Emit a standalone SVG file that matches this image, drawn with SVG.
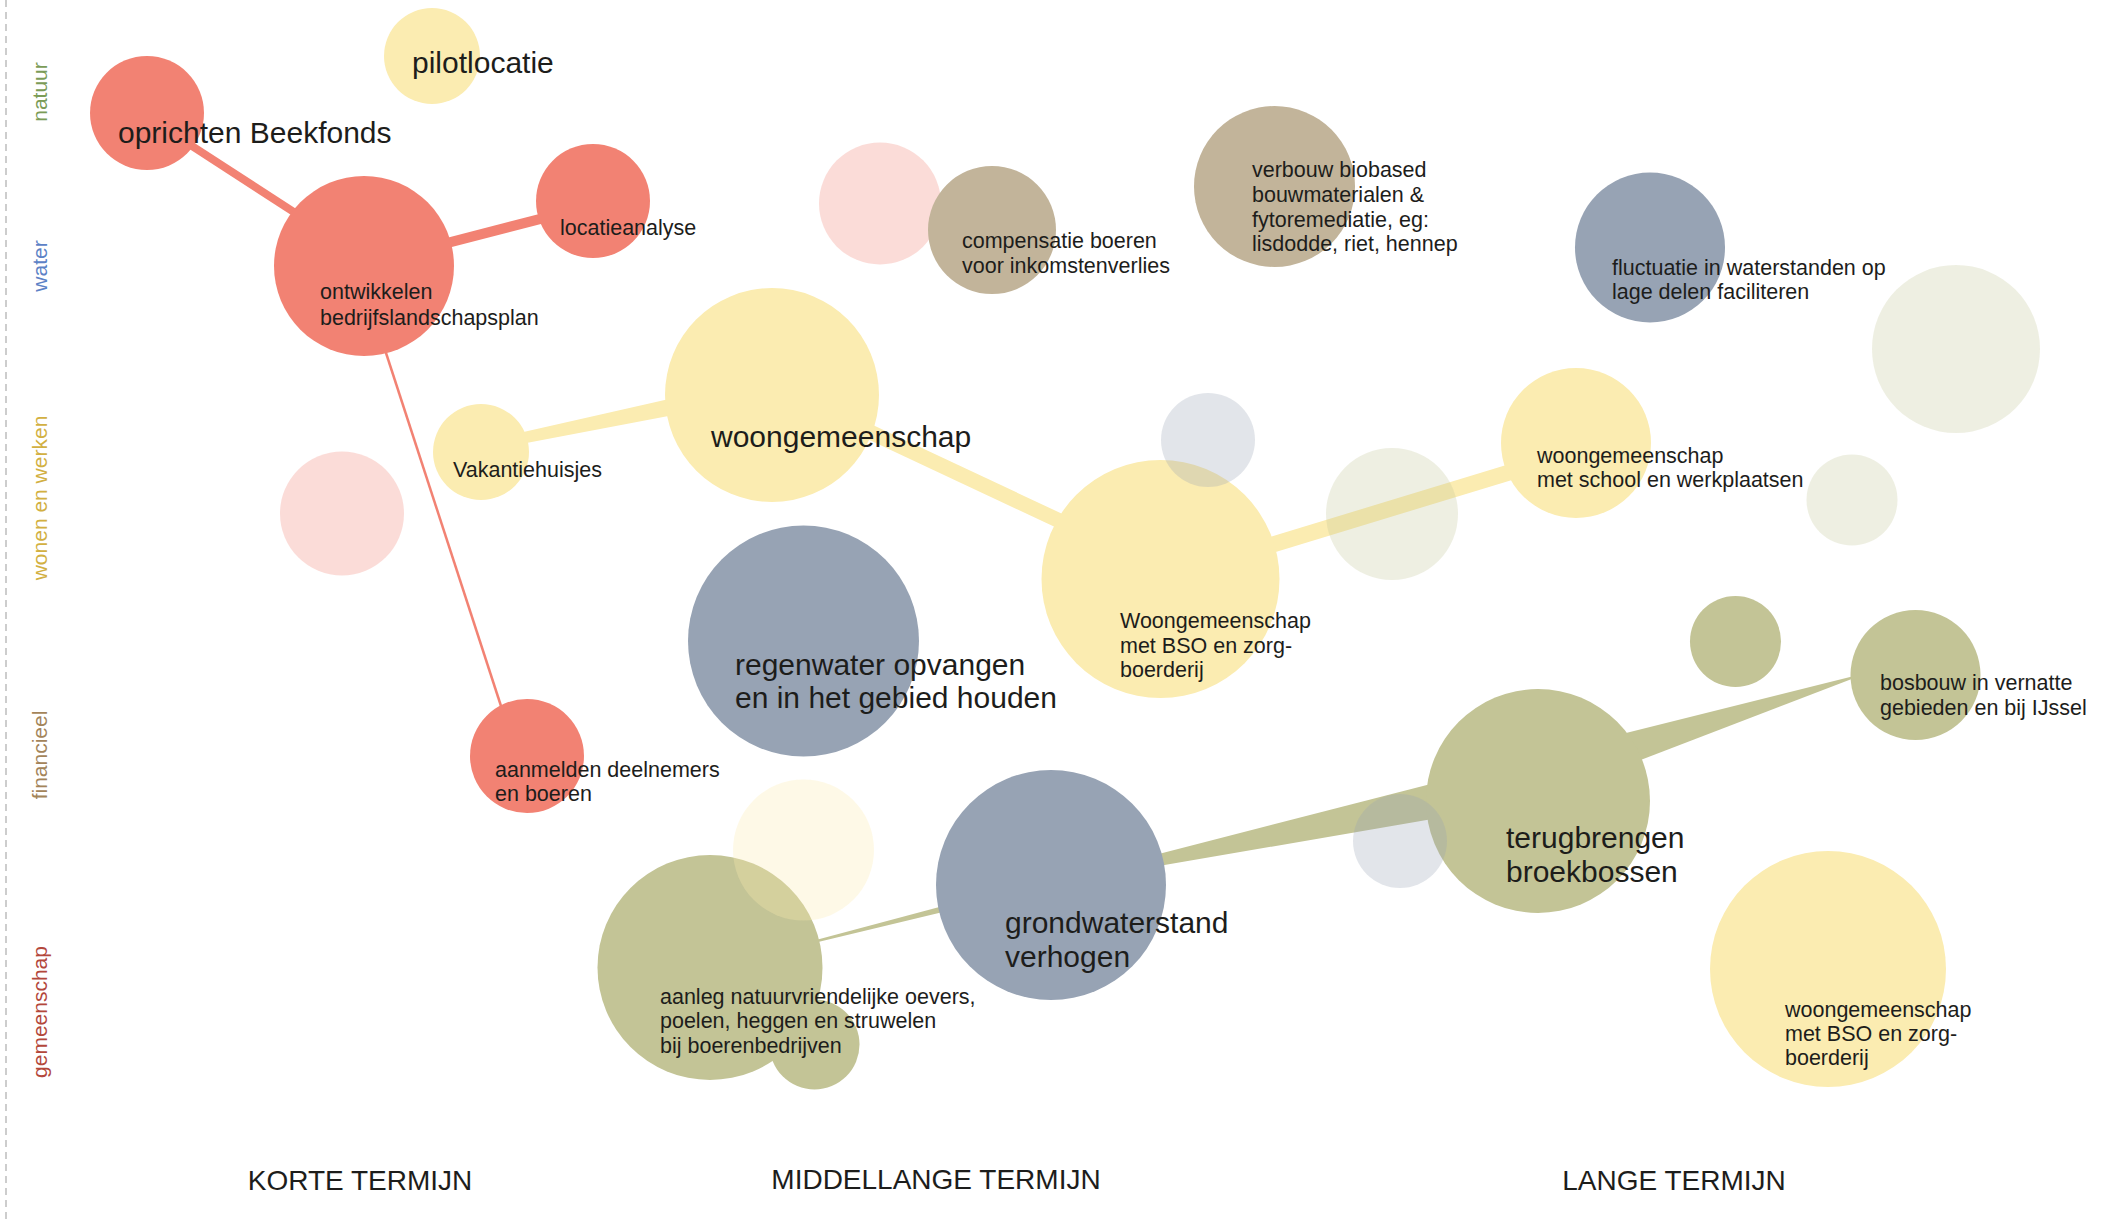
<svg xmlns="http://www.w3.org/2000/svg" width="2107" height="1224" viewBox="0 0 2107 1224">
<style>
.t{font-family:"Liberation Sans",Arial,sans-serif;fill:#1d1d1b}
.s{font-size:21.5px}
.l{font-size:30px}
.ax{font-family:"Liberation Sans",Arial,sans-serif;font-size:21px;text-anchor:middle}
.term{font-family:"Liberation Sans",Arial,sans-serif;font-size:28px;fill:#1d1d1b;text-anchor:middle}
.red{fill:#f28273}.yel{fill:#fbecb1}.tan{fill:#c2b49a}.blu{fill:#97a3b4}.oli{fill:#c3c496}
.fade{opacity:0.28}
.fadey{opacity:0.3}
.cr{stroke:#f28273;fill:none}.cy{stroke:#fbecb1;fill:none}
</style>
<rect width="2107" height="1224" fill="#ffffff"/>
<line x1="6" y1="0" x2="6" y2="1224" stroke="#bdbdbd" stroke-width="1.5" stroke-dasharray="7 5"/>
<g id="axis-labels">
<text class="ax" fill="#7b9c57" transform="translate(47,92) rotate(-90)">natuur</text>
<text class="ax" fill="#5c82c6" transform="translate(47,266) rotate(-90)">water</text>
<text class="ax" fill="#d2b042" transform="translate(47,498) rotate(-90)">wonen en werken</text>
<text class="ax" fill="#a3845a" transform="translate(47,755) rotate(-90)">financieel</text>
<text class="ax" fill="#b3473b" transform="translate(47,1012) rotate(-90)">gemeenschap</text>
</g>
<g id="term-labels">
<text class="term" x="360" y="1190">KORTE TERMIJN</text>
<text class="term" x="936" y="1189">MIDDELLANGE TERMIJN</text>
<text class="term" x="1674" y="1190">LANGE TERMIJN</text>
</g>
<g id="connectors">
<line class="cr" x1="175" y1="135" x2="320" y2="229" stroke-width="8"/>
<line class="cr" x1="440" y1="244.8" x2="560" y2="213.8" stroke-width="10"/>
<line class="cr" x1="384.4" y1="348" x2="502.3" y2="710" stroke-width="2.5"/>
<polygon class="yel" points="500,437.2 700,392.1 700,410 500,448.1"/>
<line class="cy" x1="772" y1="386" x2="1160" y2="568" stroke-width="15"/>
<line class="cy" x1="1160" y1="579" x2="1576" y2="452" stroke-width="16"/>
<polygon class="oli" points="815,940.2 945,905.4 945,911.4 815,942.7"/>
<polygon class="oli" points="1150,856.3 1460,776.4 1460,814.3 1150,867.6"/>
<polygon class="oli" points="1870,672 1600,739.4 1600,775.6"/>
</g>
<g id="node-beekfonds"><circle class="red" cx="147" cy="113" r="57"/><text class="t l" x="118" y="143">oprichten Beekfonds</text></g>
<g id="node-pilotlocatie"><circle class="yel" cx="432" cy="56" r="48"/><text class="t l" x="412" y="73">pilotlocatie</text></g>
<g id="node-ontwikkelen"><circle class="red" cx="364" cy="266" r="90"/><text class="t s" x="320" y="299">ontwikkelen</text><text class="t s" x="320" y="325">bedrijfslandschapsplan</text></g>
<g id="node-locatieanalyse"><circle class="red" cx="593" cy="201" r="57"/><text class="t s" x="560" y="235">locatieanalyse</text></g>
<g id="node-faded-pink-top"><circle class="red fade" cx="880" cy="203.5" r="61"/></g>
<g id="node-compensatie"><circle class="tan" cx="992" cy="230" r="64"/><text class="t s" x="962" y="248">compensatie boeren</text><text class="t s" x="962" y="273">voor inkomstenverlies</text></g>
<g id="node-verbouw"><circle class="tan" cx="1274.5" cy="186.5" r="80.5"/><text class="t s" x="1252" y="177">verbouw biobased</text><text class="t s" x="1252" y="202">bouwmaterialen &amp;</text><text class="t s" x="1252" y="227">fytoremediatie, eg:</text><text class="t s" x="1252" y="251">lisdodde, riet, hennep</text></g>
<g id="node-fluctuatie"><circle class="blu" cx="1650" cy="247.5" r="75"/><text class="t s" x="1612" y="275">fluctuatie in waterstanden op</text><text class="t s" x="1612" y="299">lage delen faciliteren</text></g>
<g id="node-woongemeenschap"><circle class="yel" cx="772" cy="395" r="107"/><text class="t l" x="711" y="447">woongemeenschap</text></g>
<g id="node-vakantiehuisjes"><circle class="yel" cx="481" cy="452" r="48"/><text class="t s" x="453" y="477">Vakantiehuisjes</text></g>
<g id="node-bso"><circle class="yel" cx="1160.5" cy="579" r="119"/><text class="t s" x="1120" y="628">Woongemeenschap</text><text class="t s" x="1120" y="653">met BSO en zorg-</text><text class="t s" x="1120" y="677">boerderij</text></g>
<g id="node-school"><circle class="yel" cx="1576" cy="443" r="75"/><text class="t s" x="1537" y="463">woongemeenschap</text><text class="t s" x="1537" y="487">met school en werkplaatsen</text></g>
<g id="node-regenwater"><circle class="blu" cx="803.5" cy="641" r="115.5"/><text class="t l" x="735" y="675">regenwater opvangen</text><text class="t l" x="735" y="708">en in het gebied houden</text></g>
<g id="node-aanmelden"><circle class="red" cx="527" cy="756" r="57"/><text class="t s" x="495" y="777">aanmelden deelnemers</text><text class="t s" x="495" y="801">en boeren</text></g>
<g id="node-olive-small"><circle class="oli" cx="1735.5" cy="641.5" r="45.5"/></g>
<g id="node-bosbouw"><circle class="oli" cx="1915.5" cy="675" r="65"/><text class="t s" x="1880" y="690">bosbouw in vernatte</text><text class="t s" x="1880" y="715">gebieden en bij IJssel</text></g>
<g id="node-terugbrengen"><circle class="oli" cx="1538" cy="801" r="112"/><text class="t l" x="1506" y="848">terugbrengen</text><text class="t l" x="1506" y="882">broekbossen</text></g>
<g id="node-grondwaterstand"><circle class="blu" cx="1051" cy="885" r="115"/><text class="t l" x="1005" y="933">grondwaterstand</text><text class="t l" x="1005" y="967">verhogen</text></g>
<g id="node-aanleg"><circle class="oli" cx="710" cy="967.5" r="112.5"/><circle class="oli" cx="814.5" cy="1044.5" r="45"/><text class="t s" x="660" y="1004">aanleg natuurvriendelijke oevers,</text><text class="t s" x="660" y="1028">poelen, heggen en struwelen</text><text class="t s" x="660" y="1053">bij boerenbedrijven</text></g>
<g id="node-bso-2"><circle class="yel" cx="1828" cy="969" r="118"/><text class="t s" x="1785" y="1017">woongemeenschap</text><text class="t s" x="1785" y="1041">met BSO en zorg-</text><text class="t s" x="1785" y="1065">boerderij</text></g>
<g id="node-faded-pink-left"><circle class="red fade" cx="342" cy="513.5" r="62"/></g>
<g id="node-faded-gray-topright"><circle class="oli fade" cx="1956" cy="349" r="84"/></g>
<g id="node-faded-blue-small"><circle class="blu fade" cx="1208" cy="440" r="47"/></g>
<g id="node-faded-olive-mid"><circle class="oli fade" cx="1392" cy="514" r="66"/></g>
<g id="node-faded-olive-right"><circle class="oli fade" cx="1852" cy="500" r="45.5"/></g>
<g id="node-faded-blue-lower"><circle class="blu fade" cx="1400" cy="841" r="47"/></g>
<g id="node-faded-yellow"><circle class="yel fadey" cx="803.5" cy="850" r="70.5"/></g>
</svg>
